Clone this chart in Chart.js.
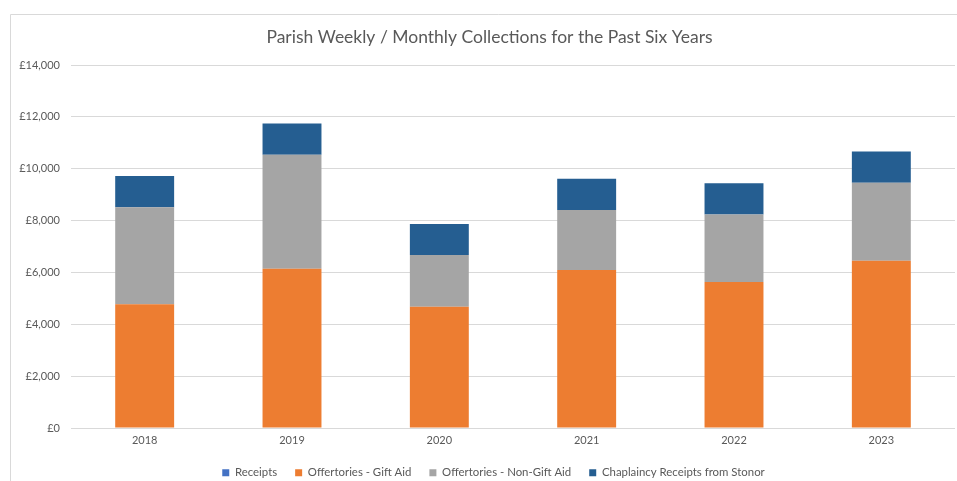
<!DOCTYPE html>
<html>
<head>
<meta charset="utf-8">
<script src="https://cdn.jsdelivr.net/npm/chart.js@4/dist/chart.umd.min.js"></script>
<style>
    html, body { margin: 0; padding: 0; background: #ffffff; overflow: hidden; }
    #wrap { position: absolute; left: 10px; top: 14px; width: 976px; height: 467px; }
</style>
</head>
<body>
<div id="wrap"><canvas id="chart" width="976" height="467"></canvas></div>
<script>
// Chart data
const years = ['2018', '2019', '2020', '2021', '2022', '2023'];
const receipts = [0, 0, 0, 0, 0, 0];
const giftAid = [4770, 6140, 4680, 6090, 5630, 6450];
const nonGiftAid = [3740, 4400, 1990, 2320, 2600, 3010];
const chaplaincy = [1210, 1200, 1200, 1200, 1210, 1200];
const yTicks = [0, 2000, 4000, 6000, 8000, 10000, 12000, 14000];

Chart.defaults.font.family = "'Lato', sans-serif";
Chart.defaults.color = '#595959';

// light frame round the chart (left + top edges are visible in the picture)
const frame = {
    id: 'frame',
    beforeDraw(chart) {
        const ctx = chart.ctx;
        ctx.save();
        ctx.strokeStyle = '#d9d9d9';
        ctx.lineWidth = 1;
        ctx.beginPath();
        ctx.moveTo(0.5, chart.height);
        ctx.lineTo(0.5, 0.5);
        ctx.lineTo(chart.width, 0.5);
        ctx.stroke();
        ctx.restore();
    }
};

// title + legend are centred on the whole (wider) chart box in the original,
// and the legend sits a bit closer to the axis labels
function shift(box, dx, dy) {
    if (!box) return;
    box.left += dx; box.right += dx;
    box.top += dy; box.bottom += dy;
}
const nudge = {
    id: 'nudge',
    afterLayout(chart) {
        shift(chart.titleBlock, 7, 0);
        shift(chart.legend, 11, -1);
    }
};

function makeSet(label, data, color) {
    return {
        label: label,
        data: data,
        backgroundColor: color,
        borderWidth: 0,
        categoryPercentage: 1,
        barPercentage: 0.4
    };
}

new Chart(document.getElementById('chart'), {
    type: 'bar',
    data: {
        labels: years,
        datasets: [
            makeSet('Receipts', receipts, '#4472c4'),
            makeSet('Offertories - Gift Aid', giftAid, '#ed7d31'),
            makeSet('Offertories - Non-Gift Aid', nonGiftAid, '#a5a5a5'),
            makeSet('Chaplaincy Receipts from Stonor', chaplaincy, '#255e91')
        ]
    },
    options: {
        responsive: false,
        animation: false,
        layout: { padding: { left: 0, right: 31, top: 0, bottom: -8.4 } },
        scales: {
            x: {
                stacked: true,
                grid: { display: false, drawTicks: false },
                border: { display: false },
                ticks: { padding: 6, font: { size: 11 } },
                afterFit: (scale) => { scale.height = 22; }
            },
            y: {
                stacked: true,
                min: 0,
                max: 14000,
                grid: { color: '#d9d9d9', drawTicks: false },
                border: { display: false },
                afterBuildTicks: (scale) => { scale.ticks = yTicks.map(v => ({ value: v })); },
                ticks: {
                    padding: 11,
                    font: { size: 11 },
                    callback: (v) => '£' + v.toLocaleString('en-GB')
                },
                afterFit: (scale) => { scale.width = 61; }
            }
        },
        plugins: {
            title: {
                display: true,
                text: 'Parish Weekly / Monthly Collections for the Past Six Years',
                color: '#595959',
                font: { size: 17.5, weight: 'normal' },
                padding: { top: 13, bottom: 17 }
            },
            legend: {
                position: 'bottom',
                labels: {
                    boxWidth: 7,
                    boxHeight: 7,
                    padding: 18,
                    font: { size: 11.4 },
                    color: '#595959'
                }
            },
            tooltip: { enabled: false }
        }
    },
    plugins: [frame, nudge]
});
</script>
</body>
</html>
